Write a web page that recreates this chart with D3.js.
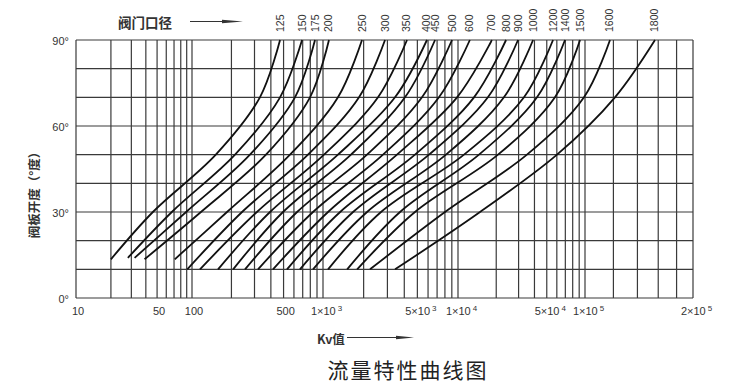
<!DOCTYPE html>
<html>
<head>
<meta charset="utf-8">
<script src="https://cdn.jsdelivr.net/npm/d3@7"></script>
<style>
  body { margin: 0; background: #fff; }
  svg { display: block; }
</style>
</head>
<body>
<div id="chart"></div>
<script>
// valve diameters, one curve each (left to right)
const valveSizes = [125, 150, 175, 200, 250, 300, 350, 400, 450, 500,
                    600, 700, 800, 900, 1000, 1200, 1400, 1500, 1600, 1800];

// opening angle where each curve starts
const startAngles = [13.5, 14, 14, 13.5, 13.5, 10, 10, 10, 10, 10,
                     10, 10, 10, 10, 10, 10, 10, 10, 10, 10];

// Kv at the start angle and at 30, 50, 70, 90 degrees
const kvStart = [20, 28, 32, 39, 71, 91, 115, 158, 206, 254,
                 319, 415, 531, 667, 839, 1090, 1510, 1790, 2230, 3420];
const kv30 = [46, 67, 89, 117, 185, 241, 313, 394, 495, 634,
              839, 1090, 1340, 1670, 2120, 2690, 3720, 4800, 8010, 14900];
const kv50 = [152, 213, 277, 367, 560, 768, 1017, 1291, 1612, 2118,
              2783, 3532, 4801, 6096, 8147, 11150, 14630, 20650, 34900, 60200];
const kv70 = [330, 470, 611, 796, 1291, 1849, 2556, 3415, 4050, 5412,
              7228, 9840, 13370, 17200, 23000, 33100, 41900, 58000, 98200, 121200];
const kv90 = [470, 692, 869, 1107, 1945, 2880, 4190, 5890, 6760, 9030,
              12400, 18500, 23900, 29700, 39000, 56000, 69600, 91400, 117400, 156700];

// axis labels
const xTickValues = [10, 50, 100, 500, 1e3, 5e3, 1e4, 5e4, 1e5, 2e5];
const xTickText = ["10", "50", "100", "500", "1×10", "5×10", "1×10", "5×10", "1×10", "2×10"];
const xTickExp = ["", "", "", "", "3", "3", "4", "4", "5", "5"];
const yTickValues = [0, 30, 60, 90];

const width = 730, height = 391;
const svg = d3.select("#chart").append("svg")
    .attr("width", width)
    .attr("height", height);

// the printed log axis is not evenly spaced, so each decade gets its own span
const x = d3.scaleLog()
    .domain([10, 100, 1000, 1e4, 1e5, 2e5])
    .range([76, 192, 323, 458, 585, 693]);
const y = d3.scaleLinear().domain([0, 90]).range([298, 40]);

const gridColor = "#3a3a3a";

// vertical grid
const gridKv = [];
[10, 100, 1000, 10000].forEach(dec => {
    for (let m = 1; m < 10; m++) gridKv.push(dec * m);
});
gridKv.push(1e5, 1.2e5, 1.4e5, 1.6e5, 1.8e5, 2e5);

svg.append("g").selectAll("line")
    .data(gridKv)
    .enter().append("line")
    .attr("x1", d => x(d)).attr("x2", d => x(d))
    .attr("y1", y(0)).attr("y2", y(90))
    .attr("stroke", gridColor)
    .attr("stroke-width", 1.2);

// horizontal grid, every 10 degrees
svg.append("g").selectAll("line")
    .data(d3.range(0, 91, 10))
    .enter().append("line")
    .attr("x1", x(10)).attr("x2", x(2e5))
    .attr("y1", d => y(d)).attr("y2", d => y(d))
    .attr("stroke", gridColor)
    .attr("stroke-width", 1.2);

// flow curves
const curves = valveSizes.map((size, i) => ({
    size: size,
    points: [
        { a: startAngles[i], kv: kvStart[i] },
        { a: 30, kv: kv30[i] },
        { a: 50, kv: kv50[i] },
        { a: 70, kv: kv70[i] },
        { a: 90, kv: kv90[i] }
    ]
}));

const line = d3.line()
    .x(d => x(d.kv))
    .y(d => y(d.a))
    .curve(d3.curveCatmullRom.alpha(0.5));

svg.append("g").selectAll("path")
    .data(curves)
    .enter().append("path")
    .attr("d", d => line(d.points))
    .attr("fill", "none")
    .attr("stroke", "#111")
    .attr("stroke-width", 1.8);

// valve size labels above the frame, rotated
svg.append("g").selectAll("text")
    .data(curves)
    .enter().append("text")
    .attr("transform", (d, i) => `translate(${x(kv90[i]) + 3.5},32) rotate(-90)`)
    .attr("font-family", "Liberation Sans, Arial, sans-serif")
    .attr("font-size", 10.5)
    .attr("fill", "#333")
    .text(d => d.size);

// x axis labels
const xAxis = svg.append("g")
    .attr("transform", `translate(0,${y(0)})`)
    .call(d3.axisBottom(x).tickValues(xTickValues).tickSize(0).tickPadding(9));
xAxis.select(".domain").remove();
xAxis.selectAll("text")
    .attr("font-family", "Liberation Sans, Arial, sans-serif")
    .attr("font-size", 11)
    .attr("fill", "#333")
    .each(function (d, i) {
        const t = d3.select(this);
        t.text(null);
        t.append("tspan").text(xTickText[i]);
        if (xTickExp[i]) {
            t.attr("x", 3);
            t.append("tspan").attr("dx", 2).attr("dy", -4)
                .attr("font-size", 8).text(xTickExp[i]);
        } else {
            t.attr("x", 1.5);
        }
    });

// y axis labels
const yAxis = svg.append("g")
    .attr("transform", `translate(${x(10)},0)`)
    .call(d3.axisLeft(y).tickValues(yTickValues).tickFormat(d => d + "°")
        .tickSize(0).tickPadding(7));
yAxis.select(".domain").remove();
yAxis.selectAll("text")
    .attr("font-family", "Liberation Sans, Arial, sans-serif")
    .attr("font-size", 11)
    .attr("fill", "#333")
    .attr("dy", "0.45em");

const cjk = "Noto Sans CJK SC, sans-serif";

// y title
svg.append("text")
    .attr("transform", "translate(33,192) rotate(-90)")
    .attr("text-anchor", "middle")
    .attr("dominant-baseline", "central")
    .attr("font-family", cjk)
    .attr("font-size", 12.5)
    .attr("font-weight", "bold")
    .attr("fill", "#333")
    .text("阀板开度（°度）");

// top title with arrow
svg.append("text")
    .attr("x", 118).attr("y", 22)
    .attr("dominant-baseline", "central")
    .attr("font-family", cjk)
    .attr("font-size", 13.5)
    .attr("font-weight", "bold")
    .attr("fill", "#333")
    .text("阀门口径");
svg.append("line")
    .attr("x1", 190).attr("x2", 230).attr("y1", 21.5).attr("y2", 21.5)
    .attr("stroke", "#333").attr("stroke-width", 1.2);
svg.append("path")
    .attr("d", "M222,19.8 L243,21.5 L222,23.2 Z")
    .attr("fill", "#333");

// x title with arrow
svg.append("text")
    .attr("x", 317).attr("y", 338)
    .attr("dominant-baseline", "central")
    .attr("font-family", cjk)
    .attr("font-size", 12.5)
    .attr("font-weight", "bold")
    .attr("fill", "#333")
    .text("Kv值");
svg.append("line")
    .attr("x1", 347).attr("x2", 402).attr("y1", 337.5).attr("y2", 337.5)
    .attr("stroke", "#333").attr("stroke-width", 1.2);
svg.append("path")
    .attr("d", "M396,335.8 L414,337.5 L396,339.2 Z")
    .attr("fill", "#333");

// caption
svg.append("text")
    .attr("x", 408).attr("y", 369)
    .attr("text-anchor", "middle")
    .attr("dominant-baseline", "central")
    .attr("font-family", cjk)
    .attr("font-size", 21)
    .attr("letter-spacing", 2)
    .attr("fill", "#222")
    .text("流量特性曲线图");
</script>
</body>
</html>
